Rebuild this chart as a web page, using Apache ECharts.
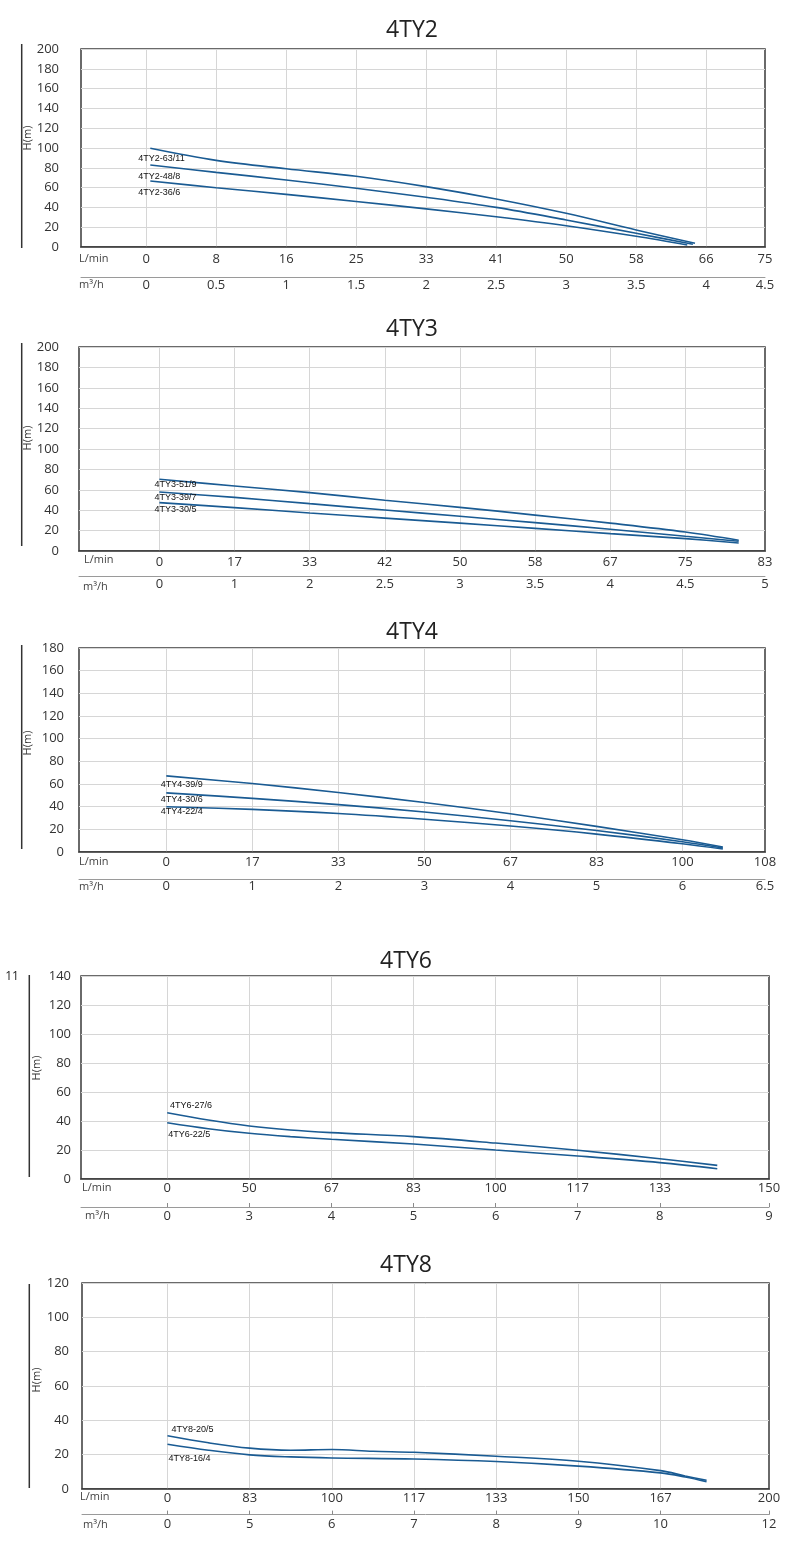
<!DOCTYPE html>
<html><head><meta charset="utf-8">
<script src="https://cdn.jsdelivr.net/npm/echarts@6/dist/echarts.min.js"></script>
<style>html,body{margin:0;padding:0;background:#fff}#c{width:790px;height:1568px}</style>
</head><body><div id="c"></div>
<script>
// ---------- DATA (x = position along the flow axis in tick steps, y = head H in m) ----------
const ty2_lmin = ['0','8','16','25','33','41','50','58','66','75'];
const ty2_m3h  = ['0','0.5','1','1.5','2','2.5','3','3.5','4','4.5'];
const ty2_63_11 = [[0.06,99.7],[1,87.5],[2,79],[3,71.5],[4,61],[5,48.5],[6,34],[7,17.2],[7.84,3.7]];
const ty2_48_8  = [[0.06,82.8],[1,75.4],[2,67.7],[3,59.3],[4,50.2],[5,40],[6,27.3],[7,13.8],[7.81,2.7]];
const ty2_36_6  = [[0.06,66.7],[1,59.9],[2,53.2],[3,46],[4,38.5],[5,30.5],[6,21.5],[7,10.8],[7.73,2]];

const ty3_lmin = ['0','17','33','42','50','58','67','75','83'];
const ty3_m3h  = ['0','1','2','2.5','3','3.5','4','4.5','5'];
const ty3_51_9 = [[0,70.3],[1,63.7],[2,57.2],[3,49.8],[4,42.8],[5,35.2],[6,27.3],[7,18.6],[7.71,10.5]];
const ty3_39_7 = [[0,57.8],[1,52.6],[2,46.4],[3,40.2],[4,34],[5,27.8],[6,21.3],[7,14.4],[7.71,9.5]];
const ty3_30_5 = [[0,47.4],[1,42.5],[2,37.3],[3,32.2],[4,27.3],[5,22.2],[6,17],[7,12.1],[7.71,7.9]];

const ty4_lmin = ['0','17','33','50','67','83','100','108'];
const ty4_m3h  = ['0','1','2','3','4','5','6','6.5'];
const ty4_39_9 = [[0,67.2],[1,60.4],[2,52.5],[3,43.7],[4,33.7],[5,22.6],[6,10.8],[6.47,4.4]];
const ty4_30_6 = [[0,52.2],[1,47.3],[2,41.8],[3,35.3],[4,27.6],[5,19],[6,9.1],[6.47,3.5]];
const ty4_22_4 = [[0,39.9],[1,37.6],[2,34],[3,28.9],[4,22.9],[5,15.8],[6,7.3],[6.47,2.6]];

const ty6_lmin = ['0','50','67','83','100','117','133','150'];
const ty6_m3h  = ['0','3','4','5','6','7','8','9'];
const ty6_27_6 = [[0,45.7],[0.5,40.7],[1,36.6],[1.5,33.8],[2,32],[3,29.2],[4,24.8],[5,19.8],[6,14],[6.7,9.4]];
const ty6_22_5 = [[0,38.8],[0.5,34.7],[1,31.5],[1.5,29.2],[2,27.4],[3,24.1],[4,20],[5,15.9],[6,11.3],[6.7,7.1]];

const ty8_lmin = ['0','83','100','117','133','150','167','200'];
const ty8_m3h  = ['0','5','6','7','8','9','10','12'];
const ty8_20_5 = [[0,31],[0.5,26.9],[1,23.8],[1.5,22.6],[2,23],[2.5,22],[3,21.4],[4,19.1],[5,16.2],[6,10.7],[6.3,7.6],[6.56,5.1]];
const ty8_16_4 = [[0,26.1],[0.5,22.6],[1,19.9],[1.5,18.7],[2,18.1],[3,17.5],[4,16],[5,13.3],[6,9.4],[6.3,7],[6.56,4.3]];

const titles = ['4TY2','4TY3','4TY4','4TY6','4TY8'];
const yMaxes = [200, 200, 180, 140, 120];
const yUnit = 'H(m)';
const flowUnit = 'L/min';
const volUnit = 'm³/h';
const pageNo = '11';

// ---------- LAYOUT ----------
const LAY = [
  {grid:{left:81,top:49,width:684,height:198}, xMin:-0.93, xMax:8.84, yMargin:22, yName:[28,138],
   title:[412,30], deco:[21.7,44,248], lab0:5.5, sep:30, lab1:1.5, ticks:false, unitL:[79,259], unitM:[79,285],
   lbl:[[-11,11],[-11,12],[-11,13]]},
  {grid:{left:79,top:347,width:686,height:204}, xMin:-1.07, xMax:8.06, yMargin:20, yName:[28,438],
   title:[412,329], deco:[21.7,343,546], lab0:4.5, sep:25.3, lab1:1, ticks:false, unitL:[84,560], unitM:[83,586.7],
   lbl:[[-4,6.7],[-4,6],[-4,7.4]]},
  {grid:{left:79,top:648,width:686,height:204}, xMin:-1.015, xMax:6.96, yMargin:15, yName:[28,743],
   title:[412,632.5], deco:[21.7,645,849], lab0:3.5, sep:27, lab1:0.5, ticks:false, unitL:[79,862.3], unitM:[79,886.7],
   lbl:[[-4.5,9.7],[-4.5,7.3],[-4.5,5.7]]},
  {grid:{left:81,top:976,width:688,height:203}, xMin:-1.05, xMax:7.33, yMargin:10, yName:[36.7,1068],
   title:[406,961.5], deco:[29.3,975,1177], lab0:3, sep:28, lab1:2.5, ticks:true, unitL:[82,1188.3], unitM:[85,1216],
   lbl:[[3.7,-6],[2,13]]},
  {grid:{left:82,top:1283,width:687,height:206}, xMin:-1.04, xMax:7.32, yMargin:13, yName:[36.7,1380],
   title:[406,1265.5], deco:[29.3,1284,1488], lab0:3, sep:25.6, lab1:3, ticks:true, unitL:[80,1497.3], unitM:[83,1525],
   lbl:[[5,-5],[2,15]]}
];

const panels = [
  {lmin:ty2_lmin, m3h:ty2_m3h, series:[['4TY2-63/11',ty2_63_11],['4TY2-48/8',ty2_48_8],['4TY2-36/6',ty2_36_6]]},
  {lmin:ty3_lmin, m3h:ty3_m3h, series:[['4TY3-51/9',ty3_51_9],['4TY3-39/7',ty3_39_7],['4TY3-30/5',ty3_30_5]]},
  {lmin:ty4_lmin, m3h:ty4_m3h, series:[['4TY4-39/9',ty4_39_9],['4TY4-30/6',ty4_30_6],['4TY4-22/4',ty4_22_4]]},
  {lmin:ty6_lmin, m3h:ty6_m3h, series:[['4TY6-27/6',ty6_27_6],['4TY6-22/5',ty6_22_5]]},
  {lmin:ty8_lmin, m3h:ty8_m3h, series:[['4TY8-20/5',ty8_20_5],['4TY8-16/4',ty8_16_4]]}
];

const FONT = 'Open Sans';
const LINE_COLOR = '#1a5b93';
const grids = [], xAxes = [], yAxes = [], series = [], graphics = [];

panels.forEach((p, i) => {
  const L = LAY[i];
  grids.push(Object.assign({show:true, borderColor:'#3a3a3a', borderWidth:1.5, containLabel:false}, L.grid));
  const tickVals = p.lmin.slice(0, -1).map((_, k) => k);
  const labelVals = tickVals.concat([L.xMax]);
  const fmt = labels => v => labels[Math.min(Math.round(v), labels.length - 1)];
  xAxes.push({
    type:'value', gridIndex:i, position:'bottom', min:L.xMin, max:L.xMax,
    axisLine:{show:true, onZero:false, lineStyle:{color:'#3a3a3a', width:1.5}},
    axisTick:{show:false, customValues:tickVals},
    splitLine:{show:true, lineStyle:{color:'#d6d6d6', width:1}},
    axisLabel:{customValues:labelVals, formatter:fmt(p.lmin), margin:L.lab0, fontSize:13, color:'#333', fontFamily:FONT}
  });
  xAxes.push({
    type:'value', gridIndex:i, position:'bottom', offset:L.sep, min:L.xMin, max:L.xMax,
    axisLine:{show:true, onZero:false, lineStyle:{color:'#9a9a9a', width:1}},
    axisTick:{show:L.ticks, inside:true, length:4, customValues:labelVals, lineStyle:{color:'#8a8a8a', width:1}},
    splitLine:{show:false},
    axisLabel:{customValues:labelVals, formatter:fmt(p.m3h), margin:L.lab1, fontSize:13, color:'#333', fontFamily:FONT}
  });
  yAxes.push({
    type:'value', gridIndex:i, min:0, max:yMaxes[i], interval:20,
    axisLine:{show:false}, axisTick:{show:false},
    splitLine:{show:true, lineStyle:{color:'#d6d6d6', width:1}},
    axisLabel:{margin:L.yMargin, fontSize:13, color:'#333', fontFamily:FONT}
  });
  p.series.forEach(([name, data], j) => {
    const off = L.lbl[j];
    series.push({
      type:'line', name:name, xAxisIndex:2*i, yAxisIndex:i, smooth:0.35,
      symbol:'circle', symbolSize:2, showSymbol:true,
      itemStyle:{color:'rgba(0,0,0,0)'},
      lineStyle:{color:LINE_COLOR, width:1.6},
      emphasis:{disabled:true},
      data:data.map((pt, k) => k === 0 ? {value:pt, label:{show:true, formatter:name, position:off,
        align:'left', verticalAlign:'middle', fontSize:9, color:'#111', opacity:1,
        fontFamily:'Liberation Sans'}} : pt)
    });
  });
  graphics.push({type:'text', x:L.title[0], y:L.title[1],
    style:{text:titles[i], font:'23px "Open Sans"', fill:'#222', align:'center', verticalAlign:'middle'}});
  graphics.push({type:'text', x:L.yName[0], y:L.yName[1], rotation:Math.PI/2,
    style:{text:yUnit, font:'11px "Open Sans"', fill:'#333', align:'center', verticalAlign:'middle'}});
  graphics.push({type:'line', shape:{x1:L.deco[0], y1:L.deco[1], x2:L.deco[0], y2:L.deco[2]},
    style:{stroke:'#333', lineWidth:1.5}});
  graphics.push({type:'text', x:L.unitL[0], y:L.unitL[1],
    style:{text:flowUnit, font:'11px "Open Sans"', fill:'#444', align:'left', verticalAlign:'middle'}});
  graphics.push({type:'text', x:L.unitM[0], y:L.unitM[1],
    style:{text:volUnit, font:'11px "Open Sans"', fill:'#444', align:'left', verticalAlign:'middle'}});
});
graphics.push({type:'text', x:12, y:977, style:{text:pageNo, font:'12px "Open Sans"', fill:'#222', align:'center', verticalAlign:'middle'}});

const chart = echarts.init(document.getElementById('c'), null, {renderer:'canvas'});
chart.setOption({
  animation:false,
  backgroundColor:'#fff',
  grid:grids, xAxis:xAxes, yAxis:yAxes, series:series, graphic:graphics
});
</script>
</body></html>
